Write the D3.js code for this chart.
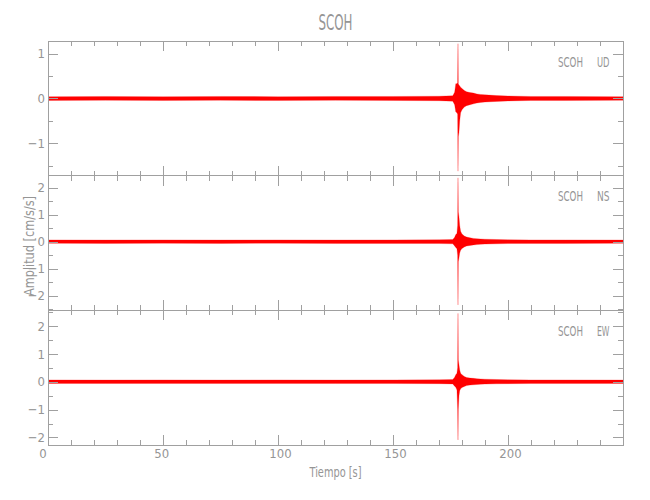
<!DOCTYPE html>
<html><head><meta charset="utf-8">
<script src="https://cdn.jsdelivr.net/npm/d3@7"></script>
<style>body{margin:0;background:#fff}</style>
</head><body>
<svg id="chart" width="650" height="500"></svg>
<script>
// ---------- data ----------
const chartTitle = "SCOH";
const station = "SCOH";
const components = ["UD", "NS", "EW"];
const xLabel = "Tiempo [s]";
const yLabel = "Amplitud [cm/s/s]";
const xDomain = [0, 250];
const xTicks = [0, 50, 100, 150, 200];

const yDomainUD = [-1.72, 1.28];
const yDomainNS = [-2.54, 2.44];
const yDomainEW = [-2.27, 2.56];
const yTicksUD = [-1, 0, 1];
const yTicksNS = [-2, -1, 0, 1, 2];
const yTicksEW = [-2, -1, 0, 1, 2];

// envelope of each trace (upper / lower amplitude) at these times, seconds
const timeS = [0, 25, 50, 75, 100, 125, 150, 170, 176, 176.8, 177.3, 177.8, 178.1, 178.26, 178.4, 178.7, 179.0, 179.4, 180, 181, 182, 183.5, 185, 186.5, 188, 190, 195, 200, 210, 225, 250];
const hiUD = [0.04, 0.045, 0.04, 0.045, 0.04, 0.045, 0.045, 0.05, 0.06, 0.14, 0.33, 0.33, 0.35, 1.22, 0.32, 0.3, 0.28, 0.25, 0.22, 0.18, 0.15, 0.13, 0.12, 0.1, 0.09, 0.08, 0.065, 0.055, 0.045, 0.045, 0.04];
const loUD = [-0.045, -0.04, -0.045, -0.04, -0.045, -0.04, -0.045, -0.05, -0.06, -0.14, -0.3, -0.32, -0.35, -1.62, -0.85, -0.75, -0.5, -0.32, -0.25, -0.19, -0.16, -0.14, -0.12, -0.1, -0.09, -0.08, -0.065, -0.055, -0.045, -0.045, -0.04];
const hiNS = [0.065, 0.06, 0.065, 0.06, 0.065, 0.06, 0.065, 0.07, 0.08, 0.16, 0.26, 0.3, 0.6, 2.36, 1.1, 0.9, 0.6, 0.38, 0.28, 0.21, 0.17, 0.14, 0.12, 0.11, 0.1, 0.09, 0.08, 0.07, 0.065, 0.065, 0.06];
const loNS = [-0.06, -0.065, -0.06, -0.065, -0.06, -0.065, -0.065, -0.07, -0.08, -0.16, -0.22, -0.26, -0.5, -2.34, -0.74, -0.6, -0.42, -0.32, -0.25, -0.2, -0.16, -0.14, -0.12, -0.11, -0.1, -0.09, -0.08, -0.07, -0.065, -0.065, -0.06];
const hiEW = [0.065, 0.06, 0.065, 0.06, 0.065, 0.06, 0.065, 0.07, 0.08, 0.16, 0.25, 0.3, 0.5, 2.45, 0.78, 0.6, 0.42, 0.3, 0.25, 0.19, 0.15, 0.13, 0.12, 0.11, 0.1, 0.09, 0.08, 0.07, 0.065, 0.065, 0.06];
const loEW = [-0.06, -0.065, -0.06, -0.065, -0.06, -0.065, -0.065, -0.07, -0.08, -0.16, -0.2, -0.3, -1.0, -2.09, -1.0, -0.5, -0.32, -0.25, -0.21, -0.17, -0.14, -0.12, -0.11, -0.1, -0.09, -0.085, -0.075, -0.07, -0.065, -0.065, -0.06];

// ---------- drawing ----------
const panels = [
  {comp: components[0], domain: yDomainUD, ticks: yTicksUD, hi: hiUD, lo: loUD},
  {comp: components[1], domain: yDomainNS, ticks: yTicksNS, hi: hiNS, lo: loNS},
  {comp: components[2], domain: yDomainEW, ticks: yTicksEW, hi: hiEW, lo: loEW}
];

const svg = d3.select("#chart");
const pLeft = 48, pRight = 623, pTop = 41, pBottom = 445;
const ph = (pBottom - pTop) / panels.length;
const axisColor = "#a0a0a0", textColor = "#959595", traceColor = "#ff0000";
const font = "'Liberation Sans Narrow','Arial Narrow','DejaVu Sans Condensed',sans-serif";

const x = d3.scaleLinear().domain(xDomain).range([pLeft, pRight]);
const xMinor = d3.range(xDomain[0], xDomain[1] + 0.001, 10);

function styleAxis(sel) {
  sel.select(".domain").remove();
  sel.selectAll("line").attr("stroke", axisColor).attr("shape-rendering", "crispEdges");
  sel.selectAll("text").attr("fill", textColor).style("font-family", font).style("font-size", "13px");
}

panels.forEach((p, i) => {
  const y0 = pTop + i * ph, y1 = y0 + ph;
  const y = d3.scaleLinear().domain(p.domain).range([y1, y0]);
  const g = svg.append("g");
  const yMinor = d3.range(Math.ceil(p.domain[0] * 2) / 2, p.domain[1] + 0.001, 0.5);

  g.append("clipPath").attr("id", "clip" + i)
    .append("rect").attr("x", pLeft).attr("y", y0).attr("width", pRight - pLeft).attr("height", ph);

  const rows = timeS.map((t, k) => ({t, hi: p.hi[k], lo: p.lo[k]}));
  const area = d3.area().x(d => x(d.t)).y0(d => y(d.lo)).y1(d => y(d.hi));
  g.append("path").datum(rows)
    .attr("clip-path", `url(#clip${i})`)
    .attr("d", area)
    .attr("fill", traceColor)
    .attr("stroke", traceColor).attr("stroke-opacity", 0.4).attr("stroke-width", 0.6);

  // left axis
  g.append("g").attr("transform", `translate(${pLeft},0)`)
    .call(d3.axisLeft(y).tickValues(yMinor).tickSize(-5).tickFormat("")).call(styleAxis);
  g.append("g").attr("transform", `translate(${pLeft},0)`)
    .call(d3.axisLeft(y).tickValues(p.ticks).tickSize(-10).tickPadding(3).tickFormat(d3.format("d"))).call(styleAxis);
  // right axis
  g.append("g").attr("transform", `translate(${pRight},0)`)
    .call(d3.axisRight(y).tickValues(yMinor).tickSize(-5).tickFormat("")).call(styleAxis);
  g.append("g").attr("transform", `translate(${pRight},0)`)
    .call(d3.axisRight(y).tickValues(p.ticks).tickSize(-10).tickFormat("")).call(styleAxis);
  // top and bottom x ticks
  g.append("g").attr("transform", `translate(0,${y0})`)
    .call(d3.axisTop(x).tickValues(xMinor).tickSize(-5).tickFormat("")).call(styleAxis);
  g.append("g").attr("transform", `translate(0,${y0})`)
    .call(d3.axisTop(x).tickValues(xTicks).tickSize(-10).tickFormat("")).call(styleAxis);
  g.append("g").attr("transform", `translate(0,${y1})`)
    .call(d3.axisBottom(x).tickValues(xMinor).tickSize(-5).tickFormat("")).call(styleAxis);
  g.append("g").attr("transform", `translate(0,${y1})`)
    .call(d3.axisBottom(x).tickValues(xTicks).tickSize(-10).tickFormat("")).call(styleAxis);

  g.append("rect").attr("x", pLeft).attr("y", y0).attr("width", pRight - pLeft).attr("height", ph)
    .attr("fill", "none").attr("stroke", axisColor).attr("shape-rendering", "crispEdges");

  // station / component label
  g.append("text").attr("x", 558).attr("y", y0 + 25.7)
    .attr("textLength", 25).attr("lengthAdjust", "spacingAndGlyphs")
    .attr("fill", textColor).style("font-family", font).style("font-size", "14px").text(station);
  g.append("text").attr("x", 597).attr("y", y0 + 25.7)
    .attr("textLength", 12.5).attr("lengthAdjust", "spacingAndGlyphs")
    .attr("fill", textColor).style("font-family", font).style("font-size", "14px").text(p.comp);

  if (i === panels.length - 1) {
    g.selectAll(".xlab").data(xTicks).join("text")
      .attr("class", "xlab")
      .attr("x", d => x(d) - 8.7).attr("y", y1 + 13.3)
      .attr("fill", textColor).style("font-family", font).style("font-size", "13px")
      .text(d => d3.format("d")(d));
  }
});

svg.append("text").attr("x", (pLeft + pRight) / 2).attr("y", 30).attr("text-anchor", "middle")
  .attr("textLength", 34).attr("lengthAdjust", "spacingAndGlyphs")
  .attr("fill", textColor).style("font-family", font).style("font-size", "22px").text(chartTitle);

svg.append("text").attr("x", (pLeft + pRight) / 2).attr("y", 476.5).attr("text-anchor", "middle")
  .attr("textLength", 52).attr("lengthAdjust", "spacingAndGlyphs")
  .attr("fill", textColor).style("font-family", font).style("font-size", "14px").text(xLabel);

svg.append("text").attr("transform", "translate(34,246) rotate(-90)").attr("text-anchor", "middle")
  .attr("textLength", 100).attr("lengthAdjust", "spacingAndGlyphs")
  .attr("fill", textColor).style("font-family", font).style("font-size", "14px").text(yLabel);
</script>
</body></html>
